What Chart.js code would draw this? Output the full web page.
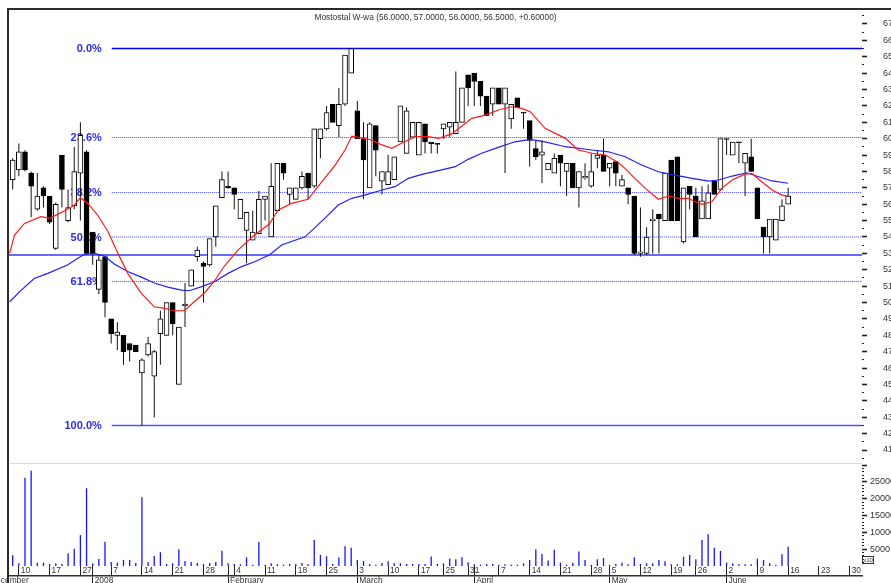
<!DOCTYPE html>
<html>
<head>
<meta charset="utf-8">
<script src="https://cdn.jsdelivr.net/npm/chart.js@4.4.0/dist/chart.umd.min.js"></script>
<style>
  html, body { margin: 0; padding: 0; background: #fff; }
</style>
</head>
<body>
<canvas id="stockChart" width="891" height="583"></canvas>
<script>
// Mostostal W-wa, daily sessions 7 Dec 2007 .. 16 Jun 2008 (index 0 = first session)
const chartTitle = 'Mostostal W-wa (56.0000, 57.0000, 56.0000, 56.5000, +0.60000)';

const opens = [
  57.5, 58.1, 59.2, 57.9, 55.7, 57.0, 56.5, 53.3, 59.0, 55.0,
  55.9, 57.9, 59.2, 54.3, 50.8, 52.8, 49.0, 48.0, 48.0, 47.5,
  47.4, 45.7, 46.8, 45.5, 48.1, 48.0, 50.0, 45.0, 49.8, 51.0,
  52.8, 52.4, 52.3, 54.0, 56.4, 57.1, 57.0, 55.1, 54.4, 53.8,
  54.2, 56.3, 54.0, 55.6, 58.5, 56.6, 56.3, 57.0, 57.9, 57.1,
  60.0, 60.6, 62.1, 60.8, 62.1, 64.0, 61.7, 60.0, 57.0, 60.8,
  57.4, 57.2, 57.5, 59.8, 59.1, 60.1, 59.0, 60.9, 59.8, 59.7,
  60.6, 60.7, 60.3, 61.0, 63.9, 64.0, 63.5, 62.6, 62.1, 63.1,
  62.1, 61.2, 62.5, 61.6, 61.1, 59.4, 59.0, 58.1, 57.9, 59.0,
  58.0, 58.5, 57.0, 57.6, 57.1, 58.8, 59.0, 58.2, 58.6, 57.1,
  57.0, 56.5, 53.0, 53.0, 55.0, 55.4, 55.0, 58.7, 58.9, 53.7,
  57.1, 56.5, 55.1, 55.1, 57.4, 56.9, 60.0, 59.0, 59.8, 58.5,
  58.9, 57.0, 54.6, 54.0, 53.8, 55.0, 56.0
];
const highs = [
  58.8, 59.7, 59.3, 58.0, 57.9, 57.1, 56.5, 56.1, 59.0, 56.9,
  59.5, 61.0, 59.3, 54.3, 52.9, 52.8, 49.0, 48.8, 48.0, 47.5,
  47.4, 46.6, 47.9, 47.1, 49.5, 50.0, 50.0, 48.5, 51.2, 52.0,
  53.4, 52.5, 53.9, 55.9, 58.0, 58.0, 57.0, 56.3, 55.5, 55.6,
  56.8, 56.5, 58.5, 58.5, 58.5, 57.0, 57.0, 58.0, 57.9, 60.6,
  60.6, 62.0, 62.1, 63.1, 65.1, 65.5, 62.3, 61.0, 61.0, 60.8,
  58.0, 59.0, 58.9, 62.0, 61.9, 61.0, 61.0, 60.9, 59.8, 59.7,
  60.9, 61.0, 64.1, 63.1, 63.9, 64.0, 63.5, 62.6, 63.1, 63.1,
  63.1, 62.1, 62.5, 61.6, 61.1, 59.9, 59.9, 58.5, 59.1, 59.0,
  58.5, 58.5, 58.0, 58.5, 59.1, 59.3, 60.0, 58.5, 58.6, 57.8,
  57.0, 56.5, 55.8, 54.6, 55.7, 55.4, 57.9, 58.7, 58.9, 57.0,
  57.1, 57.0, 57.1, 57.2, 57.4, 60.0, 60.0, 59.8, 59.8, 59.1,
  60.0, 57.0, 54.6, 55.1, 55.1, 56.3, 57.0
];
const lows = [
  56.9, 57.7, 58.0, 55.2, 55.6, 55.8, 54.8, 53.2, 55.8, 54.9,
  55.7, 55.0, 52.9, 52.3, 50.5, 49.1, 47.5, 47.1, 46.2, 46.4,
  47.0, 42.5, 46.7, 43.0, 46.2, 48.0, 48.0, 45.0, 48.5, 51.0,
  52.5, 50.0, 52.2, 53.4, 56.4, 56.95, 55.7, 55.1, 52.4, 53.8,
  54.2, 55.0, 54.0, 55.6, 57.5, 56.0, 56.3, 56.9, 56.3, 57.0,
  58.8, 60.5, 61.0, 60.1, 62.0, 64.0, 60.0, 56.3, 57.0, 57.7,
  56.6, 57.2, 57.5, 59.8, 59.1, 60.1, 59.0, 59.1, 59.1, 59.1,
  60.0, 60.1, 60.3, 61.0, 62.0, 62.0, 62.0, 61.4, 61.4, 62.1,
  57.9, 60.6, 61.9, 60.6, 58.3, 58.7, 57.3, 58.1, 57.9, 57.1,
  56.5, 57.0, 55.8, 57.5, 57.0, 58.2, 58.0, 57.1, 57.1, 57.1,
  56.0, 52.9, 52.8, 52.9, 53.0, 53.0, 55.0, 55.0, 55.0, 53.6,
  55.7, 54.0, 55.1, 55.1, 56.6, 56.9, 59.0, 59.0, 58.5, 56.5,
  58.0, 55.1, 53.0, 53.0, 53.8, 55.0, 56.0
];
const closes = [
  58.7, 59.2, 58.1, 57.1, 56.5, 56.5, 54.9, 56.0, 56.9, 55.8,
  58.0, 60.2, 53.0, 53.0, 52.6, 50.0, 48.1, 48.2, 47.0, 47.1,
  47.0, 46.5, 47.5, 47.0, 49.0, 50.0, 48.7, 48.5, 49.9, 52.0,
  53.2, 52.2, 53.9, 55.9, 57.5, 57.0, 56.6, 56.3, 55.5, 54.3,
  56.3, 56.5, 57.1, 58.5, 57.9, 57.0, 57.0, 57.7, 57.0, 60.6,
  60.6, 61.6, 61.0, 62.1, 65.1, 65.5, 60.0, 58.7, 60.9, 59.3,
  58.0, 58.0, 58.9, 62.0, 61.7, 61.0, 61.0, 59.8, 59.7, 59.65,
  60.9, 61.0, 61.0, 63.1, 63.1, 63.5, 62.6, 61.4, 63.1, 62.1,
  63.1, 62.1, 61.9, 61.55, 59.9, 58.9, 59.2, 58.5, 58.8, 58.5,
  58.5, 57.0, 58.0, 57.7, 58.0, 59.0, 58.0, 58.5, 57.9, 57.5,
  56.6, 53.0, 53.1, 54.0, 55.1, 55.1, 57.9, 55.0, 55.0, 57.0,
  56.6, 54.0, 56.2, 56.7, 56.6, 60.0, 59.95, 59.8, 59.75, 59.1,
  58.0, 55.1, 54.0, 55.1, 55.1, 55.9, 56.5
];
// volume in axis units (axis is labelled x10)
const volumes = [
  3200, 800, 26200, 28300, 1000, 1000, 600, 800, 600, 3800,
  5100, 9200, 23100, 800, 2100, 7200, 1200, 1000, 1800, 1800,
  900, 20400, 1200, 3000, 4100, 600, 800, 5000, 1500, 1200,
  900, 600, 900, 1200, 4500, 800, 600, 500, 2600, 400,
  7100, 400, 800, 500, 400, 600, 600, 900, 500, 7700,
  3300, 2900, 600, 2500, 5900, 5400, 1800, 1500, 600, 400,
  900, 1400, 800, 800, 600, 600, 600, 600, 2800, 600,
  800, 2200, 2000, 2600, 1100, 500, 400, 600, 600, 400,
  500, 400, 400, 800, 1800, 5000, 3600, 1600, 4800, 1000,
  400, 1000, 4300, 1800, 400, 2000, 2400, 400, 600, 1000,
  500, 2600, 600, 800, 800, 1800, 1400, 500, 500, 2800,
  3300, 2000, 7700, 9400, 5400, 4500, 1000, 800, 500, 500,
  500, 2200, 1800, 800, 400, 3500, 5700
];

// moving averages: [session index, price]
const shortAverage = [
  [-0.5, 53.0], [0.3, 54.12], [1.9, 54.83], [4.6, 55.24], [6.0, 55.14], [7.3, 55.38], [8.9, 55.69],
  [10.0, 55.95], [11.0, 56.4], [12.2, 56.05], [13.8, 55.34], [15.5, 54.32], [17.1, 53.0], [18.7, 51.78],
  [20.9, 50.56], [23.0, 49.74], [24.7, 49.64], [26.3, 49.5], [27.9, 49.5], [29.5, 50.05], [31.2, 50.6],
  [32.8, 51.33], [34.4, 52.23], [36.6, 53.2], [39.0, 54.03], [41.7, 54.79], [43.1, 55.64], [45.3, 56.05],
  [48.0, 56.3], [49.6, 57.07], [52.4, 58.39], [54.0, 59.31], [55.1, 60.16], [56.2, 60.08], [58.3, 59.92],
  [59.7, 59.67], [61.6, 59.41], [63.2, 59.72], [65.4, 60.12], [67.5, 60.12], [69.2, 60.02], [71.3, 60.29],
  [73.0, 60.77], [74.6, 61.24], [76.8, 61.44], [78.9, 61.75], [81.1, 61.95], [82.7, 61.85], [84.1, 61.65],
  [86.5, 60.63], [89.8, 60.02], [91.9, 59.31], [94.2, 59.11], [96.3, 59.0], [98.2, 58.59], [99.5, 58.19],
  [101.1, 57.58], [102.8, 56.97], [104.9, 56.3], [106.6, 56.5], [108.2, 56.36], [109.8, 56.36], [110.9, 56.15],
  [112.0, 55.99], [113.6, 56.15], [115.2, 56.97], [116.9, 57.48], [119.0, 57.84], [120.1, 57.88], [121.7, 57.37],
  [123.4, 56.87], [125.0, 56.56], [126.0, 56.5]
];
const longAverage = [
  [-0.5, 50.05], [1.4, 50.76], [3.5, 51.47], [5.7, 51.78], [8.9, 52.29], [10.6, 52.7], [11.7, 52.96],
  [13.3, 53.0], [14.9, 52.84], [16.5, 52.35], [18.7, 51.89], [20.9, 51.55], [23.0, 51.19], [25.2, 50.94],
  [27.4, 50.76], [28.7, 50.72], [30.6, 50.96], [32.8, 51.27], [35.0, 51.78], [37.1, 52.18], [39.3, 52.49],
  [41.7, 52.9], [43.7, 53.51], [47.5, 54.01], [50.7, 55.14], [52.9, 55.95], [55.1, 56.36], [57.2, 56.56],
  [60.0, 56.87], [62.1, 57.07], [64.3, 57.58], [66.5, 57.82], [69.7, 58.1], [71.9, 58.29], [74.0, 58.74],
  [76.2, 59.11], [78.9, 59.47], [81.6, 59.81], [84.1, 59.96], [86.5, 59.81], [89.8, 59.51], [94.1, 59.31],
  [96.8, 59.2], [99.5, 58.9], [102.2, 58.39], [104.9, 57.98], [107.6, 57.78], [110.4, 57.58], [113.1, 57.41],
  [114.7, 57.48], [116.9, 57.72], [119.3, 57.92], [121.2, 57.68], [123.4, 57.42], [126.0, 57.28]
];

// Fibonacci retracement between 65.5 and 42.5
const fibLabels = ['0.0%', '23.6%', '38.2%', '50.0%', '61.8%', '100.0%'];
const fibLevels = [65.5, 60.07, 56.71, 54.0, 51.29, 42.5];
const fibStartDay = 16.1;
const supportLevel = 52.9;

// bottom axis: weekly ticks and month starts (session index)
const weekTickDays = [1, 6, 11, 16, 21, 26, 31, 36, 41, 46, 51, 56, 61, 66, 70, 74, 79, 84, 89, 94, 97, 102, 107, 111, 116, 121, 126, 131, 136];
const weekTickLabels = ['10', '17', '27', '7', '14', '21', '28', '4', '11', '18', '25', '3', '10', '17', '25', '31', '7', '14', '21', '28', '5', '12', '19', '26', '2', '9', '16', '23', '30'];
const monthTickDays = [-4, 13, 35, 56, 75, 97, 116];
const monthTickLabels = ['December', '2008', 'February', 'March', 'April', 'May', 'June'];

const xMin = -0.6, xMax = 138;
const fontFamily = '"Liberation Sans", Arial, sans-serif';
Chart.defaults.font.family = fontFamily;

const fibDatasets = fibLevels.map((level, k) => {
  const edge = k === 0 || k === fibLevels.length - 1;
  return {
    type: 'line', xAxisID: 'x', yAxisID: 'y', order: 10,
    data: [{x: fibStartDay, y: level}, {x: xMax, y: level}],
    borderColor: k === 0 ? '#0000ff' : (edge ? '#5050ff' : '#3a3aff'),
    borderWidth: edge ? 1.5 : 1,
    borderDash: edge ? [] : [1, 1],
    pointRadius: 0
  };
});

const chartFrame = {
  id: 'chartFrame',
  beforeDatasetsDraw(chart) {
    const {ctx, chartArea, scales} = chart;
    const sep = Math.round(scales.vol.top) + 0.5;
    ctx.save();
    ctx.strokeStyle = '#d9d9d9';
    ctx.lineWidth = 1;
    ctx.beginPath();
    ctx.moveTo(chartArea.left + 1, sep);
    ctx.lineTo(chartArea.right, sep);
    ctx.stroke();
    ctx.font = 'bold 11px ' + fontFamily;
    ctx.fillStyle = '#2b2bee';
    ctx.textAlign = 'right';
    ctx.textBaseline = 'middle';
    const right = scales.x.getPixelForValue(fibStartDay) - 10;
    fibLevels.forEach((level, k) => {
      ctx.fillText(fibLabels[k], right, scales.y.getPixelForValue(level) + 0.5);
    });
    ctx.restore();
  },
  afterDraw(chart) {
    const {ctx, chartArea, scales} = chart;
    ctx.save();
    ctx.fillStyle = '#2b2b2b';
    ctx.fillRect(7, 8, chart.width - 7, 2);
    ctx.fillRect(7, 8, 2, chart.height - 8);
    ctx.font = '8.4px ' + fontFamily;
    ctx.fillStyle = '#333';
    ctx.textAlign = 'center';
    ctx.textBaseline = 'middle';
    ctx.fillText(chartTitle, (chartArea.left + chartArea.right) / 2, 18);
    // x10 multiplier box under the volume scale
    const vb = Math.round(scales.vol.bottom);
    ctx.strokeStyle = '#333';
    ctx.lineWidth = 1;
    ctx.strokeRect(chartArea.right + 0.5, vb - 9.5, 11, 7);
    ctx.font = '6px ' + fontFamily;
    ctx.fillText('x10', chartArea.right + 6, vb - 6);
    ctx.restore();
  }
};

const noPadding = s => { s.paddingLeft = 0; s.paddingRight = 0; s.paddingTop = 0; s.paddingBottom = 0; };
const tickFont = {family: fontFamily, size: 8.4};

new Chart(document.getElementById('stockChart'), {
  type: 'bar',
  data: {
    datasets: [
      {
        type: 'line', xAxisID: 'x', yAxisID: 'y', order: 1,
        data: shortAverage.map(p => ({x: p[0], y: p[1]})),
        borderColor: '#ff1a1a', borderWidth: 1.2, pointRadius: 0, tension: 0
      },
      {
        type: 'line', xAxisID: 'x', yAxisID: 'y', order: 2,
        data: longAverage.map(p => ({x: p[0], y: p[1]})),
        borderColor: '#2020ff', borderWidth: 1.2, pointRadius: 0, tension: 0
      },
      {
        type: 'bar', xAxisID: 'x', yAxisID: 'y', order: 4, grouped: false,
        data: opens.map((o, i) => ({x: i, y: [o, closes[i]]})),
        backgroundColor: opens.map((o, i) => closes[i] >= o ? '#ffffff' : '#000000'),
        borderColor: '#000000', borderWidth: 1, borderSkipped: false,
        barThickness: 5, minBarLength: 1
      },
      {
        type: 'bar', xAxisID: 'x', yAxisID: 'y', order: 5, grouped: false,
        data: lows.map((l, i) => ({x: i, y: [l, highs[i]]})),
        backgroundColor: '#111111', barThickness: 1, inflateAmount: 0, minBarLength: 1
      },
      {
        type: 'bar', xAxisID: 'x', yAxisID: 'vol', order: 9, grouped: false,
        data: volumes.map((v, i) => ({x: i, y: v})),
        backgroundColor: '#1414ff', barThickness: 1.3, inflateAmount: 0
      },
      {
        type: 'line', xAxisID: 'x', yAxisID: 'y', order: 11,
        data: [{x: xMin, y: supportLevel}, {x: xMax, y: supportLevel}],
        borderColor: '#6a6aff', borderWidth: 2.2, pointRadius: 0
      },
      ...fibDatasets
    ]
  },
  options: {
    responsive: false,
    animation: false,
    events: [],
    layout: {padding: {left: 9, top: 10, right: 0, bottom: 0}},
    plugins: {
      legend: {display: false},
      tooltip: {enabled: false}
    },
    scales: {
      x: {
        type: 'linear', position: 'bottom', min: xMin, max: xMax, offset: false,
        border: {display: false},
        grid: {drawOnChartArea: false, offset: false, tickLength: 10, tickColor: '#222', tickWidth: 1},
        ticks: {
          autoSkip: false, maxRotation: 0, minRotation: 0, align: 'start', labelOffset: 2,
          padding: -10, color: '#333', font: tickFont,
          callback: (v, i, t) => t[i].text
        },
        afterBuildTicks: s => {
          s.ticks = weekTickDays.map((d, k) => ({value: d, text: weekTickLabels[k]}))
            .concat(monthTickDays.map(d => ({value: d, text: ''})));
        },
        afterFit: s => { s.height = 10; noPadding(s); }
      },
      xm: {
        type: 'linear', position: 'bottom', min: xMin, max: xMax, offset: false,
        border: {display: true, color: '#333', width: 1.5},
        grid: {drawOnChartArea: false, offset: false, tickLength: 7, tickColor: '#222', tickWidth: 1},
        ticks: {
          autoSkip: false, maxRotation: 0, minRotation: 0, align: 'start', labelOffset: 2,
          padding: -7, color: '#333', font: tickFont,
          callback: (v, i, t) => t[i].text
        },
        afterBuildTicks: s => {
          s.ticks = monthTickDays.map((d, k) => ({value: d, text: monthTickLabels[k]}));
        },
        afterFit: s => { s.height = 7; noPadding(s); }
      },
      y: {
        type: 'linear', position: 'right', stack: 'panes', stackWeight: 453,
        min: 40.207, max: 67.854,
        border: {display: false},
        grid: {
          drawOnChartArea: false, tickLength: 5, tickColor: '#222',
          tickWidth: c => (c.tick && Number.isInteger(c.tick.value)) ? 1.6 : 1,
          tickBorderDash: c => (c.tick && Number.isInteger(c.tick.value)) ? [] : [2, 10]
        },
        ticks: {
          autoSkip: false, padding: 16, color: '#333', font: {family: fontFamily, size: 9},
          callback: v => Number.isInteger(v) ? String(v) : ''
        },
        afterBuildTicks: s => {
          const t = [];
          for (let k = 81; k <= 135; k++) t.push({value: k / 2});
          s.ticks = t;
        },
        afterFit: s => { s.width = 29; noPadding(s); }
      },
      vol: {
        type: 'linear', position: 'right', stack: 'panes', stackWeight: 103,
        min: 0, max: 30610,
        border: {display: false},
        grid: {
          drawOnChartArea: false, tickLength: 5, tickColor: '#222',
          tickWidth: c => (c.tick && c.tick.value % 5000 === 0) ? 1.6 : 1,
          tickBorderDash: c => (c.tick && c.tick.value % 5000 === 0) ? [] : [2, 10]
        },
        ticks: {
          autoSkip: false, padding: 3, color: '#333', font: {family: fontFamily, size: 9},
          callback: v => (v % 5000 === 0 && v > 0 && v <= 25000) ? String(v) : ''
        },
        afterBuildTicks: s => {
          const t = [];
          for (let k = 1; k <= 30; k++) t.push({value: k * 1000});
          s.ticks = t;
        },
        afterFit: s => { s.width = 29; noPadding(s); }
      }
    }
  },
  plugins: [chartFrame]
});
</script>
</body>
</html>
